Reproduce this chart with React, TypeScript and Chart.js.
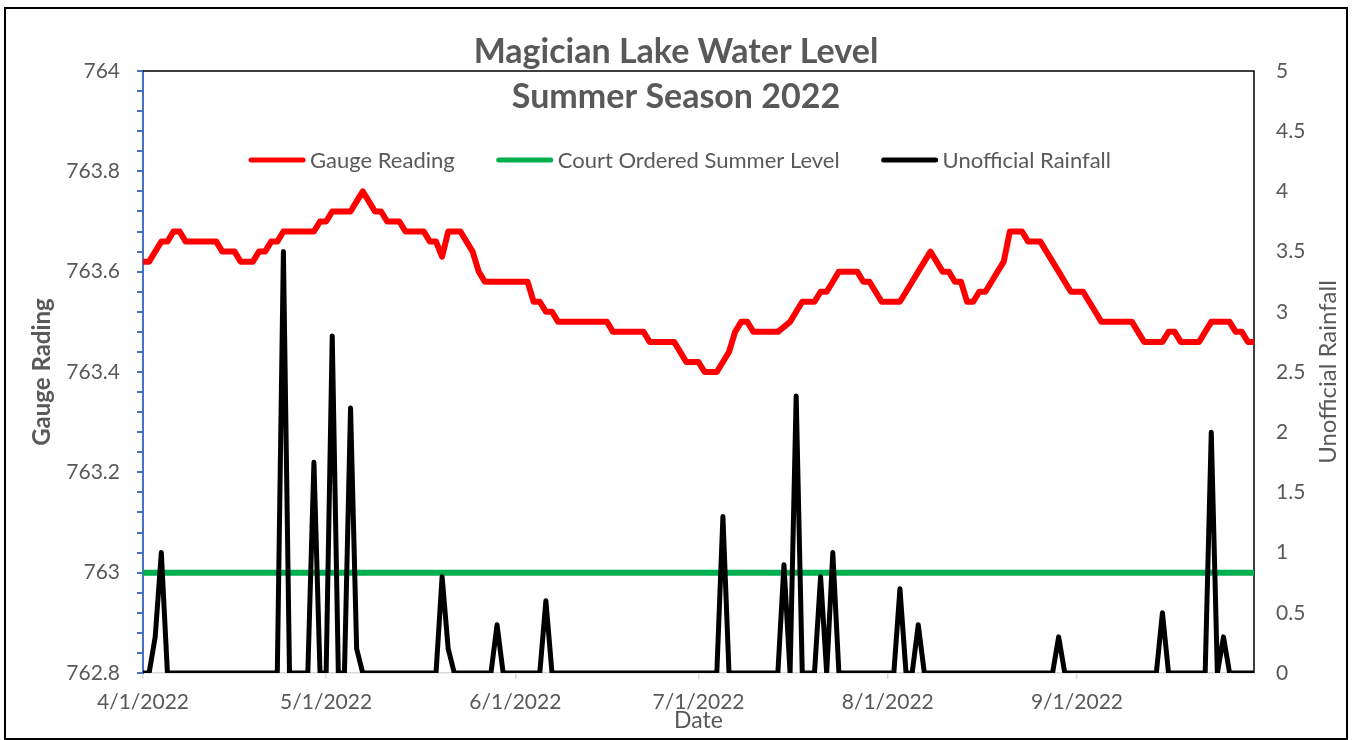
import React, { useEffect, useRef } from 'react';
import { Chart, registerables } from 'chart.js';

Chart.register(...registerables);

// ---- Data (daily, 4/1/2022 .. 9/30/2022) ----
const monthStartDays = [0, 30, 61, 91, 122, 153];
const monthLabels = ['4/1/2022', '5/1/2022', '6/1/2022', '7/1/2022', '8/1/2022', '9/1/2022'];

const gaugeApr = [
  763.62, 763.62, 763.64, 763.66, 763.66, 763.68, 763.68, 763.66, 763.66, 763.66,
  763.66, 763.66, 763.66, 763.64, 763.64, 763.64, 763.62, 763.62, 763.62, 763.64,
  763.64, 763.66, 763.66, 763.68, 763.68, 763.68, 763.68, 763.68, 763.68, 763.70,
];
const gaugeMay = [
  763.70, 763.72, 763.72, 763.72, 763.72, 763.74, 763.76, 763.74, 763.72, 763.72,
  763.70, 763.70, 763.70, 763.68, 763.68, 763.68, 763.68, 763.66, 763.66, 763.63,
  763.68, 763.68, 763.68, 763.66, 763.64, 763.60, 763.58, 763.58, 763.58, 763.58,
  763.58,
];
const gaugeJun = [
  763.58, 763.58, 763.58, 763.54, 763.54, 763.52, 763.52, 763.50, 763.50, 763.50,
  763.50, 763.50, 763.50, 763.50, 763.50, 763.50, 763.48, 763.48, 763.48, 763.48,
  763.48, 763.48, 763.46, 763.46, 763.46, 763.46, 763.46, 763.44, 763.42, 763.42,
];
const gaugeJul = [
  763.42, 763.40, 763.40, 763.40, 763.42, 763.44, 763.48, 763.50, 763.50, 763.48,
  763.48, 763.48, 763.48, 763.48, 763.49, 763.50, 763.52, 763.54, 763.54, 763.54,
  763.56, 763.56, 763.58, 763.60, 763.60, 763.60, 763.60, 763.58, 763.58, 763.56,
  763.54,
];
const gaugeAug = [
  763.54, 763.54, 763.54, 763.56, 763.58, 763.60, 763.62, 763.64, 763.62, 763.60,
  763.60, 763.58, 763.58, 763.54, 763.54, 763.56, 763.56, 763.58, 763.60, 763.62,
  763.68, 763.68, 763.68, 763.66, 763.66, 763.66, 763.64, 763.62, 763.60, 763.58,
  763.56,
];
const gaugeSep = [
  763.56, 763.56, 763.54, 763.52, 763.50, 763.50, 763.50, 763.50, 763.50, 763.50,
  763.48, 763.46, 763.46, 763.46, 763.46, 763.48, 763.48, 763.46, 763.46, 763.46,
  763.46, 763.48, 763.50, 763.50, 763.50, 763.50, 763.48, 763.48, 763.46, 763.46,
];

const rainApr = [
  0, 0, 0.3, 1.0, 0, 0, 0, 0, 0, 0,
  0, 0, 0, 0, 0, 0, 0, 0, 0, 0,
  0, 0, 0, 3.5, 0, 0, 0, 0, 1.75, 0,
];
const rainMay = [
  0, 2.8, 0, 0, 2.2, 0.2, 0, 0, 0, 0,
  0, 0, 0, 0, 0, 0, 0, 0, 0, 0.8,
  0.2, 0, 0, 0, 0, 0, 0, 0, 0.4, 0,
  0,
];
const rainJun = [
  0, 0, 0, 0, 0, 0.6, 0, 0, 0, 0,
  0, 0, 0, 0, 0, 0, 0, 0, 0, 0,
  0, 0, 0, 0, 0, 0, 0, 0, 0, 0,
];
const rainJul = [
  0, 0, 0, 0, 1.3, 0, 0, 0, 0, 0,
  0, 0, 0, 0, 0.9, 0, 2.3, 0, 0, 0,
  0.8, 0, 1.0, 0, 0, 0, 0, 0, 0, 0,
  0,
];
const rainAug = [
  0, 0, 0.7, 0, 0, 0.4, 0, 0, 0, 0,
  0, 0, 0, 0, 0, 0, 0, 0, 0, 0,
  0, 0, 0, 0, 0, 0, 0, 0, 0.3, 0,
  0,
];
const rainSep = [
  0, 0, 0, 0, 0, 0, 0, 0, 0, 0,
  0, 0, 0, 0, 0.5, 0, 0, 0, 0, 0,
  0, 0, 2.0, 0, 0.3, 0, 0, 0, 0, 0,
];

const gaugeReading = [...gaugeApr, ...gaugeMay, ...gaugeJun, ...gaugeJul, ...gaugeAug, ...gaugeSep];
const unofficialRainfall = [...rainApr, ...rainMay, ...rainJun, ...rainJul, ...rainAug, ...rainSep];
const courtOrderedLevel = 763.0;

const leftTickLabels = ['762.8', '763', '763.2', '763.4', '763.6', '763.8', '764'];
const leftMinorPerMajor = 5;

const titleLines = ['Magician Lake Water Level', 'Summer Season 2022'];
const seriesNames = ['Gauge Reading', 'Court Ordered Summer Level', 'Unofficial Rainfall'];
const seriesColors = ['#FF0000', '#00B050', '#000000'];
const leftAxisTitle = 'Gauge Rading';
const rightAxisTitle = 'Unofficial Rainfall';
const xAxisTitle = 'Date';

const FONT = 'Lato, "Open Sans", sans-serif';
const TEXT = '#595959';

const overlayPlugin = {
  id: 'overlay',
  beforeDatasetsDraw(chart: any) {
    const { ctx, chartArea: a } = chart;
    ctx.save();
    ctx.strokeStyle = '#000000';
    ctx.lineWidth = 1.5;
    ctx.beginPath();
    ctx.moveTo(a.left, a.top);
    ctx.lineTo(a.right, a.top);
    ctx.lineTo(a.right, a.bottom);
    ctx.stroke();
    ctx.restore();
  },
  afterDraw(chart: any) {
    const { ctx, chartArea: a, width, height } = chart;
    ctx.save();
    // outer chart border
    ctx.strokeStyle = '#000000';
    ctx.lineWidth = 2;
    ctx.strokeRect(5, 8, width - 10, height - 9);

    // title
    ctx.fillStyle = TEXT;
    ctx.textAlign = 'center';
    ctx.textBaseline = 'alphabetic';
    ctx.font = `bold 34px ${FONT}`;
    ctx.fillText(titleLines[0], width / 2, 63);
    ctx.fillText(titleLines[1], width / 2, 108);

    // legend
    ctx.font = `22px ${FONT}`;
    const sample = 56;
    const textGap = 5;
    const itemGap = 42;
    const widths = seriesNames.map((n) => ctx.measureText(n).width);
    const total = widths.reduce((s, w) => s + sample + textGap + w, 0) + itemGap * (seriesNames.length - 1);
    let x = 680 - total / 2;
    const ly = 160;
    ctx.textAlign = 'left';
    ctx.textBaseline = 'middle';
    seriesNames.forEach((name, i) => {
      ctx.strokeStyle = seriesColors[i];
      ctx.lineWidth = 5;
      ctx.lineCap = 'round';
      ctx.beginPath();
      ctx.moveTo(x + 2, ly);
      ctx.lineTo(x + sample - 2, ly);
      ctx.stroke();
      ctx.fillStyle = TEXT;
      ctx.fillText(name, x + sample + textGap, ly + 1);
      x += sample + textGap + widths[i] + itemGap;
    });

    // axis titles
    ctx.textAlign = 'center';
    ctx.textBaseline = 'middle';
    const midY = (a.top + a.bottom) / 2;
    ctx.save();
    ctx.translate(42, midY);
    ctx.rotate(-Math.PI / 2);
    ctx.font = `bold 24px ${FONT}`;
    ctx.fillText(leftAxisTitle, 0, 0);
    ctx.restore();

    ctx.save();
    ctx.translate(1328, midY);
    ctx.rotate(-Math.PI / 2);
    ctx.font = `24px ${FONT}`;
    ctx.fillText(rightAxisTitle, 0, 0);
    ctx.restore();

    ctx.font = `23px ${FONT}`;
    ctx.fillText(xAxisTitle, (a.left + a.right) / 2, 721);
    ctx.restore();
  },
};

export default function App() {
  const canvasRef = useRef<HTMLCanvasElement | null>(null);

  useEffect(() => {
    document.body.style.margin = '0';
    document.body.style.overflow = 'hidden';
    const canvas = canvasRef.current;
    if (!canvas) return;

    const days = gaugeReading.map((_, i) => i);

    const chart = new Chart(canvas, {
      type: 'line',
      data: {
        datasets: [
          {
            label: seriesNames[0],
            data: days.map((d) => ({ x: d, y: gaugeReading[d] })),
            yAxisID: 'y',
            borderColor: seriesColors[0],
            borderWidth: 6,
            pointRadius: 0,
            tension: 0,
            borderJoinStyle: 'round',
            borderCapStyle: 'round',
            order: 3,
          },
          {
            label: seriesNames[1],
            data: days.map((d) => ({ x: d, y: courtOrderedLevel })),
            yAxisID: 'y',
            borderColor: seriesColors[1],
            borderWidth: 6,
            pointRadius: 0,
            order: 2,
          },
          {
            label: seriesNames[2],
            data: days.map((d) => ({ x: d, y: unofficialRainfall[d] })),
            yAxisID: 'y1',
            borderColor: seriesColors[2],
            borderWidth: 5,
            pointRadius: 0,
            tension: 0,
            borderJoinStyle: 'round',
            borderCapStyle: 'round',
            order: 1,
          },
        ],
      },
      options: {
        animation: false,
        responsive: false,
        maintainAspectRatio: false,
        layout: { padding: { top: 71, left: 0, right: 0, bottom: 0 } },
        plugins: {
          legend: { display: false },
          title: { display: false },
          tooltip: { enabled: false },
        },
        scales: {
          x: {
            type: 'linear',
            min: 0,
            max: days.length - 1,
            afterBuildTicks: (s: any) => {
              s.ticks = monthStartDays.map((v) => ({ value: v }));
            },
            afterFit: (s: any) => {
              s.height = 67;
            },
            ticks: {
              autoSkip: false,
              maxRotation: 0,
              padding: 11,
              color: TEXT,
              font: { family: FONT, size: 21 },
              callback: (_v: any, i: number) => monthLabels[i],
            },
            grid: {
              drawOnChartArea: false,
              drawTicks: true,
              tickLength: 6,
              color: '#D9D9D9',
              lineWidth: 1.5,
            },
            border: { display: true, color: '#D9D9D9', width: 1.5 },
          },
          y: {
            type: 'linear',
            position: 'left',
            min: 762.8,
            max: 764,
            afterBuildTicks: (s: any) => {
              const n = (leftTickLabels.length - 1) * leftMinorPerMajor;
              const step = (764 - 762.8) / n;
              s.ticks = Array.from({ length: n + 1 }, (_, i) => ({
                value: Math.round((762.8 + i * step) * 1000) / 1000,
              }));
            },
            afterFit: (s: any) => {
              s.width = 143;
            },
            ticks: {
              autoSkip: false,
              padding: 17,
              color: TEXT,
              font: { family: FONT, size: 21 },
              callback: (_v: any, i: number) =>
                i % leftMinorPerMajor === 0 ? leftTickLabels[i / leftMinorPerMajor] : '',
            },
            grid: {
              drawOnChartArea: false,
              drawTicks: true,
              tickLength: 6,
              color: '#4472C4',
              lineWidth: 2,
            },
            border: { display: true, color: '#4472C4', width: 2 },
          },
          y1: {
            type: 'linear',
            position: 'right',
            min: 0,
            max: 5,
            afterFit: (s: any) => {
              s.width = 98;
            },
            ticks: {
              stepSize: 0.5,
              padding: 22,
              color: TEXT,
              font: { family: FONT, size: 21 },
              callback: (v: any) => String(Number(v)),
            },
            grid: { display: false, drawTicks: false },
            border: { display: false },
          },
        },
      },
      plugins: [overlayPlugin],
    } as any);

    return () => chart.destroy();
  }, []);

  return (
    <div style={{ width: 1352, height: 740, background: '#ffffff' }}>
      <canvas ref={canvasRef} width={1352} height={740} style={{ display: 'block', width: 1352, height: 740 }} />
    </div>
  );
}
